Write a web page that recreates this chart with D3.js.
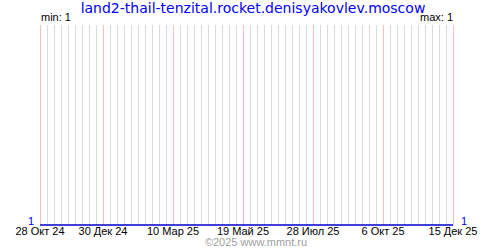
<!DOCTYPE html>
<html>
<head>
<meta charset="utf-8">
<script src="https://cdn.jsdelivr.net/npm/d3@7"></script>
<style>
  body { margin: 0; background: #fff; }
  text { font-family: "Liberation Sans", Arial, sans-serif; }
</style>
</head>
<body>
<div class="chart"></div>
<script>
// DATA ****************************************************************
var titleText = 'land2-thail-tenzital.rocket.denisyakovlev.moscow';
var seriesDates = ['2024-10-28', '2025-12-15'];
var seriesValues = [1, 1];
var tickDates = ['2024-10-28', '2024-12-30', '2025-03-10', '2025-05-19', '2025-07-28', '2025-10-06', '2025-12-15'];
var tickLabels = ['28 Окт 24', '30 Дек 24', '10 Мар 25', '19 Май 25', '28 Июл 25', '6 Окт 25', '15 Дек 25'];
var copyright = '©2025 www.mmnt.ru';

// MARGIN CONVENTION ****************************************************
var W = 500, H = 250;
var margin = {top: 25, right: 47, bottom: 25, left: 40};
var width = W - margin.left - margin.right,
    height = H - margin.top - margin.bottom;

var root = d3.select('.chart').append('svg')
    .attr('width', W)
    .attr('height', H);
var svg = root.append('g')
    .attr('transform', 'translate(' + margin.left + ',' + margin.top + ')');

var parse = d3.utcParse('%Y-%m-%d');
var data = seriesDates.map(function(d, i) { return {date: parse(d), value: seriesValues[i]}; });
var ticks = tickDates.map(parse);

// SCALES
var xScale = d3.scaleUtc()
    .domain([ticks[0], ticks[ticks.length - 1]])
    .range([0, width]);

var minV = d3.min(seriesValues), maxV = d3.max(seriesValues);
var yScale = d3.scaleLinear()
    .domain([minV, maxV > minV ? maxV : minV + 1])
    .range([height, 0]);

// GRID: weekly grey lines, labelled dates in red
svg.append('g').selectAll('line')
    .data(d3.utcMonday.range(xScale.domain()[0], d3.utcDay.offset(xScale.domain()[1], 1)))
    .enter().append('line')
    .attr('x1', function(d) { return Math.round(xScale(d)) + 0.5; })
    .attr('x2', function(d) { return Math.round(xScale(d)) + 0.5; })
    .attr('y1', 0)
    .attr('y2', height)
    .attr('stroke', '#dadada');

svg.append('g').selectAll('line')
    .data(ticks)
    .enter().append('line')
    .attr('x1', function(d) { return Math.round(xScale(d)) + 0.5; })
    .attr('x2', function(d) { return Math.round(xScale(d)) + 0.5; })
    .attr('y1', 0)
    .attr('y2', height)
    .attr('stroke', '#ffbcbc');

// X LABELS
svg.append('g').selectAll('text')
    .data(ticks)
    .enter().append('text')
    .attr('x', function(d) { return xScale(d); })
    .attr('y', height + 10)
    .attr('text-anchor', 'middle')
    .attr('font-size', 11)
    .attr('fill', '#000')
    .text(function(d, i) { return tickLabels[i]; });

// LINE
var line = d3.line()
    .x(function(d) { return xScale(d.date); })
    .y(function(d) { return yScale(d.value); });

svg.append('path')
    .datum(data)
    .attr('d', line)
    .attr('fill', 'none')
    .attr('stroke', '#0000cc')
    .attr('stroke-width', 1.5);

// VALUE LABELS at both ends
svg.append('text')
    .attr('x', -6)
    .attr('y', yScale(data[0].value) - 0.5)
    .attr('text-anchor', 'end')
    .attr('font-size', 11)
    .attr('fill', '#0000ff')
    .text(data[0].value);

svg.append('text')
    .attr('x', width + 8)
    .attr('y', yScale(data[data.length - 1].value) - 0.5)
    .attr('font-size', 11)
    .attr('fill', '#0000ff')
    .text(data[data.length - 1].value);

// MIN / MAX
svg.append('text')
    .attr('x', 1)
    .attr('y', -4)
    .attr('font-size', 11)
    .text('min: ' + minV);

svg.append('text')
    .attr('x', width)
    .attr('y', -4)
    .attr('text-anchor', 'end')
    .attr('font-size', 11)
    .text('max: ' + maxV);

// TITLE
root.append('text')
    .attr('x', 253)
    .attr('y', 12.5)
    .attr('text-anchor', 'middle')
    .style('font-family', '"DejaVu Sans", Verdana, sans-serif')
    .attr('font-size', 14)
    .attr('fill', '#0000ff')
    .text(titleText);

// COPYRIGHT
root.append('text')
    .attr('x', 256)
    .attr('y', 246)
    .attr('text-anchor', 'middle')
    .attr('font-size', 11)
    .attr('fill', '#a0a0a0')
    .text(copyright);
</script>
</body>
</html>
